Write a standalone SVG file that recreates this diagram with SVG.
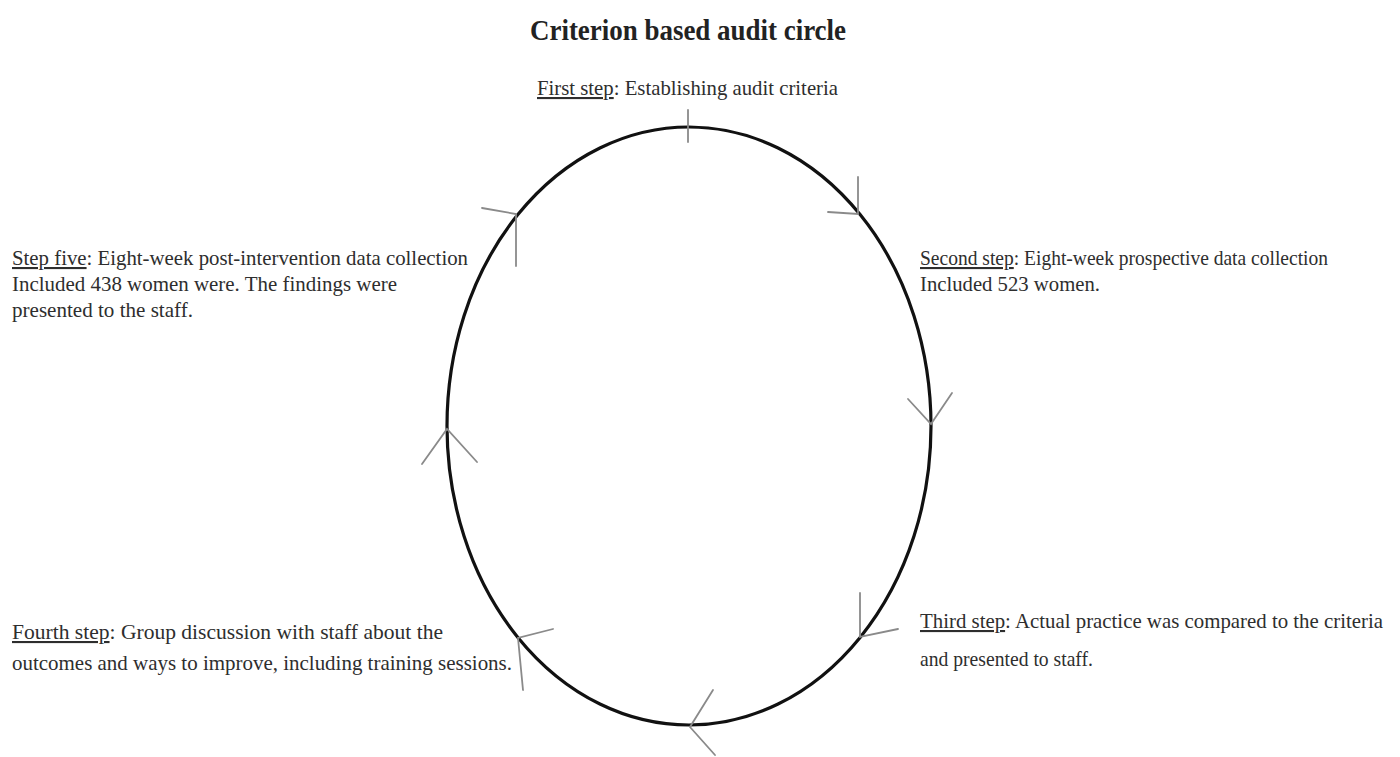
<svg xmlns="http://www.w3.org/2000/svg" width="1400" height="757" viewBox="0 0 1400 757">
<style>
.t{font-family:"Liberation Serif","Times New Roman",serif;font-size:21px;fill:#2e2e2e}
.ttl{font-family:"Liberation Serif","Times New Roman",serif;font-size:30px;font-weight:bold;fill:#222}
.u{text-decoration:underline}
.arr{fill:none;stroke:#8a8a8a;stroke-width:1.8;stroke-linecap:round;stroke-linejoin:miter}
</style>
<rect width="1400" height="757" fill="#fff"/>
<g id="title"><text class="ttl" x="530" y="40" textLength="316" lengthAdjust="spacingAndGlyphs">Criterion based audit circle</text></g>
<g id="cycle"><ellipse cx="689" cy="426" rx="242" ry="299" fill="none" stroke="#111" stroke-width="3.2"/></g>
<g id="connectors">
<path class="arr" d="M688 110 L688 142"/>
<path class="arr" d="M858 177 L858 214 L828 212"/>
<path class="arr" d="M482 208 L516 214 L516 266"/>
<path class="arr" d="M908 399 L931 424 L952 393"/>
<path class="arr" d="M422 464 L447 429 L477 462"/>
<path class="arr" d="M860 593 L860 637 L898 629"/>
<path class="arr" d="M553 629 L518 638 L523 690"/>
<path class="arr" d="M713 690 L690 727 L715 755"/>
</g>
<g id="step1"><text class="t" x="537" y="95" textLength="301" lengthAdjust="spacingAndGlyphs"><tspan class="u">First step</tspan>: Establishing  audit criteria</text></g>
<g id="step2">
<text class="t" x="920" y="265" textLength="408" lengthAdjust="spacingAndGlyphs"><tspan class="u">Second step</tspan>: Eight-week  prospective data collection</text>
<text class="t" x="920" y="291" textLength="180" lengthAdjust="spacingAndGlyphs">Included 523  women.</text>
</g>
<g id="step3">
<text class="t" x="920" y="628" textLength="463" lengthAdjust="spacingAndGlyphs"><tspan class="u">Third step</tspan>: Actual practice was compared to the criteria</text>
<text class="t" x="920" y="666" textLength="173" lengthAdjust="spacingAndGlyphs">and presented to staff.</text>
</g>
<g id="step4">
<text class="t" x="12" y="639" textLength="431" lengthAdjust="spacingAndGlyphs"><tspan class="u">Fourth step</tspan>: Group discussion with  staff about the</text>
<text class="t" x="12" y="670" textLength="500" lengthAdjust="spacingAndGlyphs">outcomes and ways to improve, including  training  sessions.</text>
</g>
<g id="step5">
<text class="t" x="12" y="265" textLength="456" lengthAdjust="spacingAndGlyphs"><tspan class="u">Step five</tspan>:  Eight-week  post-intervention  data  collection</text>
<text class="t" x="12" y="291" textLength="385" lengthAdjust="spacingAndGlyphs">Included 438 women were.  The findings  were</text>
<text class="t" x="12" y="317" textLength="181" lengthAdjust="spacingAndGlyphs">presented to the staff.</text>
</g>
</svg>
